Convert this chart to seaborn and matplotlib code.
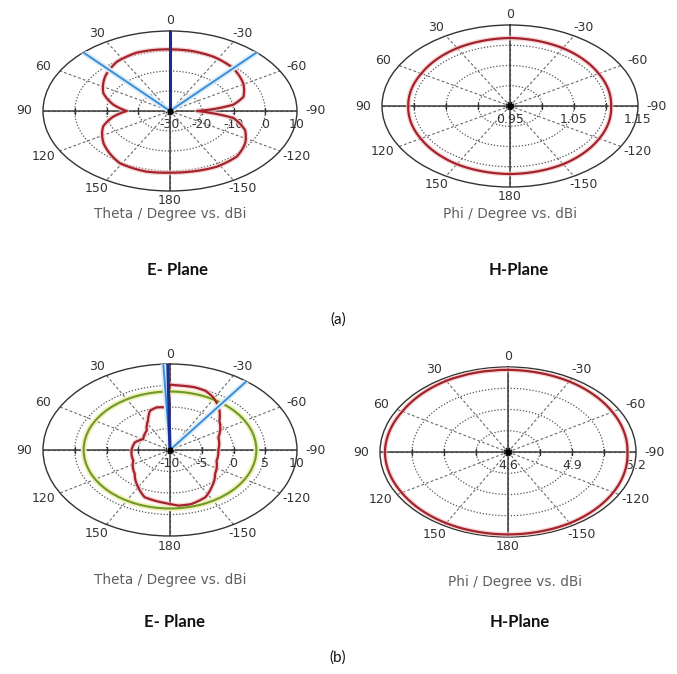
import numpy as np
import matplotlib
matplotlib.use('Agg')
import matplotlib.pyplot as plt
import seaborn as sns

sns.set_theme(style='white')
plt.rcParams['font.family'] = ['DejaVu Sans']

# angle grid (counter-clockwise from top)
theta_ticks = [0, 30, 60, 90, 120, 150, 180, 210, 240, 270, 300, 330]
theta_labels = ['0', '30', '60', '90', '120', '150', '180', '-150', '-120', '-90', '-60', '-30']

# (a) E-plane, theta in degrees, gain in dBi
ea_theta = [0, 10, 20, 34, 50, 67, 80, 90, 99, 110, 128, 149, 166, 180,
            192, 208, 223, 236, 248, 260, 265, 270, 274, 279, 287, 301, 317, 333, 348, 360]
ea_gain = [0.83, 0.95, 1.0, -0.2, -3.3, -7.2, -11.9, -16.4, -11.9, -7.6, -3.5, 0.55, 1.2, 0.83,
           1.0, 1.5, 1.0, -1.4, -4.5, -9.7, -16.3, -21.5, -16.3, -9.8, -5.8, -3.1, -0.8, 0.4, 0.8, 0.83]
ea_rlim = (-30, 10)
ea_rings = [-20, -10, 0]
ea_rvals = [-30, -20, -10, 0, 10]
ea_rtext = ['-30', '-20', '-10', '0', '10']
ea_main = 0
ea_width = [43, -43]

# (a) H-plane
ha_theta = [0, 30, 60, 90, 120, 150, 180, 210, 240, 270, 300, 330, 360]
ha_gain = [1.118, 1.115, 1.11, 1.109, 1.111, 1.116, 1.118, 1.116, 1.111, 1.108, 1.11, 1.115, 1.118]
ha_rlim = (0.95, 1.15)
ha_rings = [1.0, 1.05, 1.10]
ha_rvals = [0.95, 1.05, 1.15]
ha_rtext = ['0.95', '1.05', '1.15']

# (b) E-plane
eb_theta = [0, 2, 4.5, 12, 19, 27, 39, 59, 72, 90, 113, 135, 150, 160, 174, 180,
            186, 195, 207, 217, 232, 251, 270, 291, 311, 322, 331, 338, 345, 353, 360]
eb_gain = [5.19, 0.7, -0.04, 0.14, -0.33, -2.37, -4.19, -5.08, -4.2, -3.96, -3.72, -2.15, 0.0, 1.68, 2.25, 2.56,
           3.0, 3.02, 2.31, 0.88, -0.99, -2.25, -2.39, -1.84, 0.3, 2.5, 4.02, 4.86, 5.1, 5.07, 5.19]
eb_rlim = (-10, 10)
eb_rings = [-5, 0, 5]
eb_rvals = [-10, -5, 0, 5, 10]
eb_rtext = ['-10', '-5', '0', '5', '10']
eb_main = 1
eb_width = [3, -37]
eb_level = 3.6

# (b) H-plane
hb_theta = [0, 30, 60, 90, 120, 150, 180, 210, 240, 270, 300, 330, 360]
hb_gain = [5.18, 5.18, 5.172, 5.177, 5.175, 5.18, 5.182, 5.18, 5.17, 5.16, 5.165, 5.175, 5.18]
hb_rlim = (4.6, 5.2)
hb_rings = [4.75, 4.9, 5.05]
hb_rvals = [4.6, 4.9, 5.2]
hb_rtext = ['4.6', '4.9', '5.2']

W, H = 677, 674
fig = plt.figure(figsize=(W / 100, H / 100), dpi=100)

RED = '#a3222c'
PINK = '#f4c6c6'
DARK = '#333333'


def rect(cx, cy, rx, ry):
    return [(cx - rx) / W, 1 - (cy + ry) / H, 2 * rx / W, 2 * ry / H]


def polar_panel(box, theta, gain, rlim, rings, rvals, rtext):
    ax = fig.add_axes(box, projection='polar')
    ax.set_aspect('auto')
    ax.set_theta_zero_location('N')
    ax.set_theta_direction(1)
    ax.set_ylim(*rlim)
    ax.set_xticks(np.deg2rad(theta_ticks))
    ax.set_xticklabels([])
    ax.set_yticks(rings)
    ax.set_yticklabels([])
    ax.xaxis.grid(True, color='#6a6a6a', lw=0.8, ls=(0, (2.5, 2)))
    ax.yaxis.grid(True, color='#555555', lw=0.9, ls=(0, (1, 1.5)))
    ax.tick_params(axis='x', which='major', bottom=True, direction='in',
                   length=3, width=1.2, color='#222222')
    ax.spines['polar'].set_color(DARK)
    ax.spines['polar'].set_linewidth(1.0)
    for a in [0, 90, 180, 270]:
        ax.axvline(np.deg2rad(a), color='#3c3c3c', lw=1.1, zorder=2)

    # small ticks where the rings meet the horizontal axis
    tick_th = np.deg2rad([90] * len(rings) + [270] * len(rings))
    ax.plot(tick_th, list(rings) * 2, ls='none', marker='|', ms=4, mew=1, color=DARK, zorder=3)

    t = np.deg2rad(theta)
    ax.plot(t, gain, color=PINK, lw=3.5, alpha=0.7, zorder=4)
    ax.lines[-1].get_path()._interpolation_steps = 10
    sns.lineplot(x=t, y=gain, ax=ax, sort=False, estimator=None, color=RED, lw=1.6, zorder=5)
    ax.lines[-1].get_path()._interpolation_steps = 10
    ax.set_xlabel('')
    ax.set_ylabel('')

    ax.plot([0], [rlim[0]], 'o', ms=3.5, color='black', zorder=8)

    for a, lab in zip(theta_ticks, theta_labels):
        r = np.deg2rad(a)
        ax.annotate(lab, xy=(r, rlim[1]), xytext=(-np.sin(r) * 19 * 0.72, np.cos(r) * 10 * 0.72),
                    textcoords='offset points', ha='center', va='center', fontsize=9,
                    color='#333333', annotation_clip=False)
    for v, lab in zip(rvals, rtext):
        ax.annotate(lab, xy=(np.deg2rad(270), v), xytext=(0, -10), textcoords='offset points',
                    ha='center', va='center', fontsize=9, color='#333333', annotation_clip=False)
    return ax


def beam_lines(ax, main, widths):
    for a in widths:
        ax.axvline(np.deg2rad(a), color='#dcedf9', lw=4, zorder=6)
        ax.axvline(np.deg2rad(a), color='#3b8ed6', lw=1.4, zorder=7)
    ax.axvline(np.deg2rad(main), color='#1c2a92', lw=2.2, zorder=7)


ax1 = polar_panel(rect(170, 111, 127, 80), ea_theta, ea_gain, ea_rlim, ea_rings, ea_rvals, ea_rtext)
beam_lines(ax1, ea_main, ea_width)

ax2 = polar_panel(rect(510, 106, 128, 81), ha_theta, ha_gain, ha_rlim, ha_rings, ha_rvals, ha_rtext)

ax3 = polar_panel(rect(170, 450, 127, 86), eb_theta, eb_gain, eb_rlim, eb_rings, eb_rvals, eb_rtext)
ax3.axhline(eb_level, color='#f1f0b8', lw=4, zorder=4)
ax3.axhline(eb_level, color='#6e9a2a', lw=1.5, zorder=4)
beam_lines(ax3, eb_main, eb_width)

ax4 = polar_panel(rect(508, 452, 128, 85), hb_theta, hb_gain, hb_rlim, hb_rings, hb_rvals, hb_rtext)

cap = dict(ha='center', va='center', fontsize=9.8, color='#606060', family=['DejaVu Sans'])
fig.text(170 / W, 1 - 214 / H, 'Theta / Degree vs. dBi', **cap)
fig.text(510 / W, 1 - 214 / H, 'Phi / Degree vs. dBi', **cap)
fig.text(170 / W, 1 - 580 / H, 'Theta / Degree vs. dBi', **cap)
fig.text(515 / W, 1 - 582 / H, 'Phi / Degree vs. dBi', **cap)

ttl = dict(ha='center', va='center', fontsize=12, fontweight='bold', color='#111111', family=['Lato', 'DejaVu Sans'])
fig.text(177 / W, 1 - 270 / H, 'E- Plane', **ttl)
fig.text(519 / W, 1 - 270 / H, 'H-Plane', **ttl)
fig.text(175 / W, 1 - 622 / H, 'E- Plane', **ttl)
fig.text(520 / W, 1 - 622 / H, 'H-Plane', **ttl)

sub = dict(ha='center', va='center', fontsize=11, color='#111111', family=['Lato', 'DejaVu Sans'])
fig.text(338 / W, 1 - 320 / H, '(a)', **sub)
fig.text(338 / W, 1 - 658 / H, '(b)', **sub)

fig.savefig('out.png', dpi=100, facecolor='white')
